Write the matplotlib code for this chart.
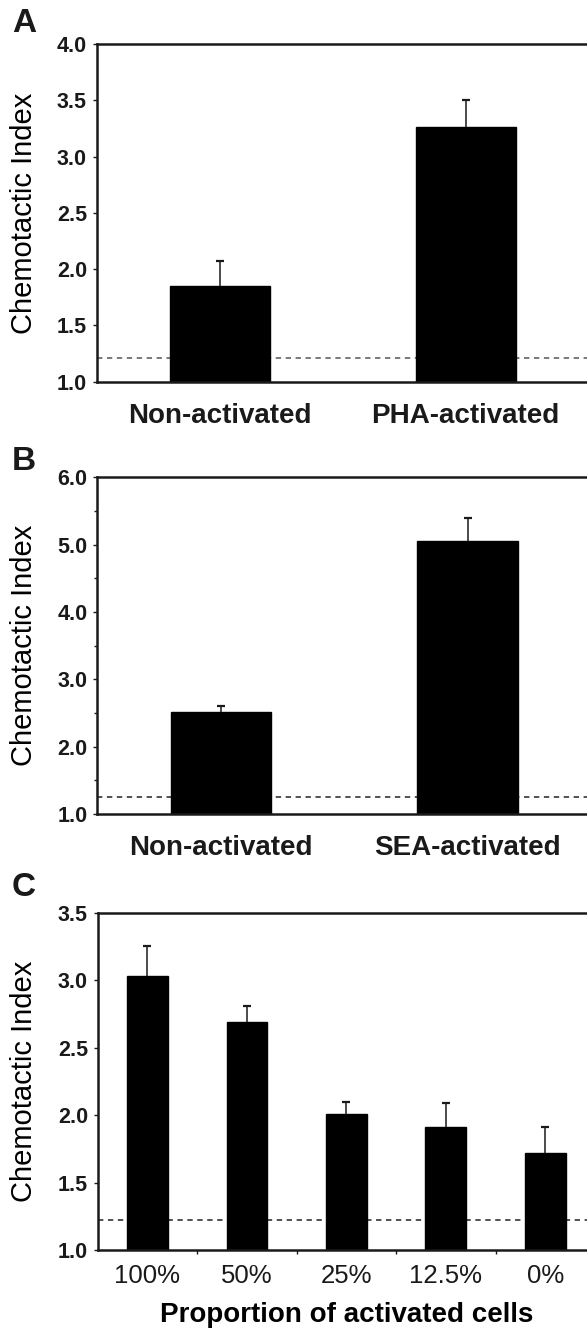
import matplotlib
matplotlib.use('Agg')
import matplotlib.pyplot as plt
import numpy as np

plt.rcParams['font.family'] = ['Liberation Sans', 'DejaVu Sans']
plt.rcParams['text.color'] = '#1a1a1a'
plt.rcParams['axes.edgecolor'] = '#1a1a1a'
plt.rcParams['xtick.color'] = '#1a1a1a'
plt.rcParams['ytick.color'] = '#1a1a1a'

# ---------------- datos ----------------
a_labels = ['Non-activated', 'PHA-activated']
a_means = [1.85, 3.26]
a_err = [0.22, 0.24]
a_base = 1.21

b_labels = ['Non-activated', 'SEA-activated']
b_means = [2.52, 5.06]
b_err = [0.08, 0.33]
b_base = 1.25

c_labels = ['100%', '50%', '25%', '12.5%', '0%']
c_means = [3.03, 2.69, 2.01, 1.91, 1.72]
c_err = [0.22, 0.12, 0.09, 0.18, 0.19]
c_base = 1.22

W, H = 587, 1332
fig = plt.figure(figsize=(W / 100, H / 100), dpi=100)


def caja(left, top, right, bottom):
    # pixeles -> fracciones de figura
    return [left / W, 1 - bottom / H, (right - left) / W, (bottom - top) / H]


def panel(box, labels, means, err, base, ylim, step, ancho, base_color):
    ax = fig.add_axes(box)
    x = np.arange(len(means))
    m = np.array(means)
    e = np.array(err)
    ax.axhline(base, color=base_color, linewidth=1.1, linestyle=(0, (3.5, 3)), zorder=1)
    ax.bar(x, m, ancho, color='black', edgecolor='black', zorder=2)
    # solo la mitad superior del error, con su tope
    ax.vlines(x, m, m + e, color='#1a1a1a', linewidth=1.1, zorder=3)
    ax.plot(x, m + e, linestyle='none', marker='_', markersize=5.5,
            markeredgewidth=1.6, color='#1a1a1a', zorder=3)
    ax.set_xlim(-0.5, len(means) - 0.5)
    ax.set_ylim(*ylim)
    ticks = np.arange(ylim[0], ylim[1] + 0.001, step)
    ax.set_yticks(ticks)
    ax.set_yticklabels(['%.1f' % v for v in ticks], fontsize=15.5, fontweight='bold')
    ax.set_xticks(x)
    ax.spines['right'].set_visible(False)
    for s in ['left', 'bottom', 'top']:
        ax.spines[s].set_linewidth(1.8)
    ax.tick_params(axis='y', direction='out', length=3, width=1.0, pad=4)
    ax.set_ylabel('Chemotactic Index', fontsize=21, va='center')
    ax.yaxis.set_label_coords((24 - box[0] * W) / (box[2] * W), 0.5)
    return ax


# ---------------- A ----------------
axA = panel(caja(96.7, 44, 588.7, 381.7), a_labels, a_means, a_err, a_base,
            (1.0, 4.0), 0.5, 0.406, '#555555')
axA.set_xticklabels(a_labels, fontsize=20, fontweight='bold')
axA.tick_params(axis='x', length=0, pad=15)
fig.text(24 / W, 1 - 24 / H, 'A', fontsize=24, fontweight='bold', ha='center', va='center')

# ---------------- B ----------------
axB = panel(caja(97.3, 477.3, 591, 814), b_labels, b_means, b_err, b_base,
            (1.0, 6.0), 1.0, 0.406, '#222222')
axB.set_xticklabels(b_labels, fontsize=20, fontweight='bold')
axB.tick_params(axis='x', length=0, pad=15)
axB.set_yticks(np.arange(1.5, 6.0, 1.0), minor=True)
axB.tick_params(axis='y', which='minor', length=2.5, width=1.0)
fig.text(24 / W, 1 - 462 / H, 'B', fontsize=24, fontweight='bold', ha='center', va='center')

# ---------------- C ----------------
axC = panel(caja(97.7, 912.7, 595, 1250), c_labels, c_means, c_err, c_base,
            (1.0, 3.5), 0.5, 0.41, '#222222')
axC.set_xticklabels(c_labels, fontsize=18.5)
axC.tick_params(axis='x', which='major', length=0, pad=10)
axC.set_xticks(np.arange(0.5, len(c_means) - 0.5, 1.0), minor=True)
axC.tick_params(axis='x', which='minor', direction='out', length=3, width=1.0)
axC.set_xlabel('Proportion of activated cells', fontsize=20, fontweight='bold', labelpad=10)
fig.text(24 / W, 1 - 888 / H, 'C', fontsize=24, fontweight='bold', ha='center', va='center')

fig.savefig('out.png', dpi=100)
